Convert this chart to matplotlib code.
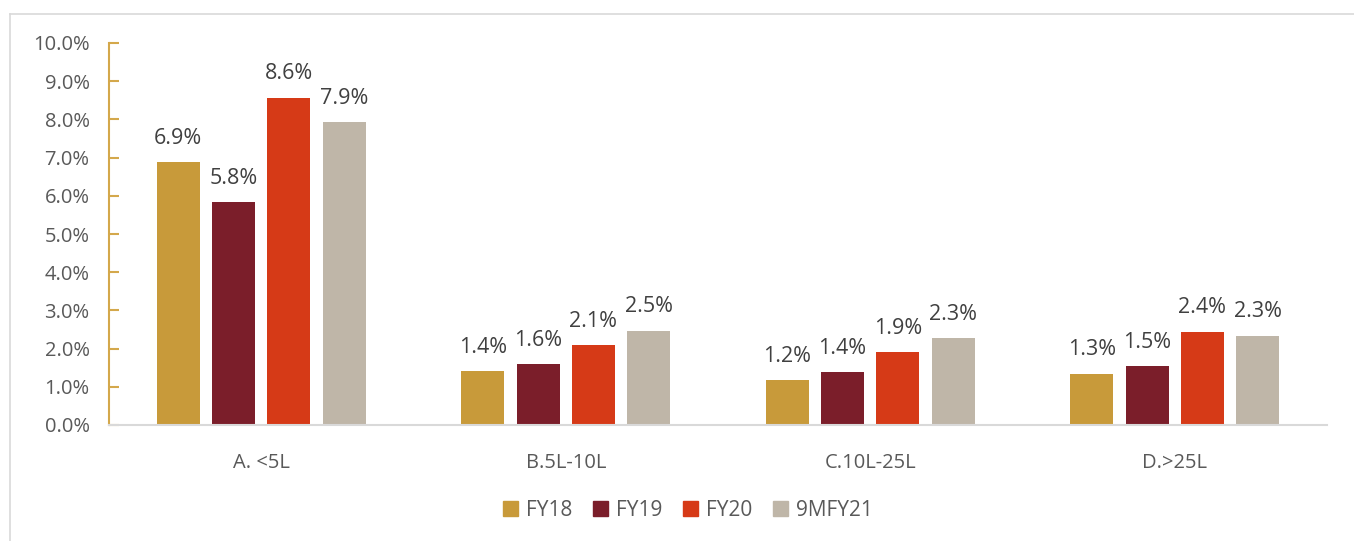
import matplotlib
matplotlib.use("Agg")
import matplotlib.pyplot as plt
import numpy as np
from matplotlib.patches import Rectangle
from matplotlib.lines import Line2D

plt.rcParams['font.family'] = ['Open Sans', 'DejaVu Sans']

categories = ["A. <5L", "B.5L-10L", "C.10L-25L", "D.>25L"]
series = ["FY18", "FY19", "FY20", "9MFY21"]
fy18 = [6.88, 1.41, 1.18, 1.34]
fy19 = [5.83, 1.60, 1.39, 1.54]
fy20 = [8.57, 2.09, 1.91, 2.44]
m9fy21 = [7.93, 2.47, 2.27, 2.34]
values = [fy18, fy19, fy20, m9fy21]
colors = ["#C89A3A", "#7B1E2A", "#D63A17", "#BFB6A8"]
yticks = [0, 1, 2, 3, 4, 5, 6, 7, 8, 9, 10]

fig = plt.figure(figsize=(13.54, 5.41), dpi=100)
ax = fig.add_axes([109/1354, 1-425/541, 1218/1354, 382/541])

x = np.arange(len(categories))
width = 0.141
step = 0.182
for i, (vals, col) in enumerate(zip(values, colors)):
    pos = x + (i - 1.5) * step
    bars = ax.bar(pos, vals, width=width, color=col, zorder=2)
    for b, v in zip(bars, vals):
        ax.text(b.get_x() + b.get_width()/2, v + 0.35, f"{v:.1f}%",
                ha='center', va='bottom', fontsize=15.5, color='#404040')

ax.set_xlim(-0.5, len(categories) - 0.5)
ax.set_ylim(0, 10)
ax.set_yticks(yticks)
ax.set_yticklabels([f"{t:.1f}%" for t in yticks], fontsize=14.5, color='#595959')
ax.set_xticks(x)
ax.set_xticklabels(categories, fontsize=14.5, color='#595959')
ax.tick_params(axis='y', direction='in', length=7, width=1.5, color='#D4A84B', pad=14)
ax.tick_params(axis='x', length=0, pad=20)
for s in ['top', 'right']:
    ax.spines[s].set_visible(False)
ax.spines['left'].set_color('#D4A84B')
ax.spines['left'].set_linewidth(1.5)
ax.spines['bottom'].set_color('#D9D9D9')
ax.spines['bottom'].set_linewidth(1.5)

handles = [Rectangle((0, 0), 1, 1, color=c) for c in colors]
fig.legend(handles, series, loc='center', bbox_to_anchor=(688/1354, 1-510/541),
           ncol=4, frameon=False, fontsize=15, handlelength=0.7, handleheight=0.7,
           columnspacing=1.0, handletextpad=0.4, labelcolor='#595959')

# outer chart border (top and left visible)
fig.add_artist(Line2D([10/1354, 1], [1-14/541, 1-14/541], color='#D9D9D9', lw=1.2, transform=fig.transFigure))
fig.add_artist(Line2D([10/1354, 10/1354], [0, 1-14/541], color='#D9D9D9', lw=1.2, transform=fig.transFigure))

fig.savefig("out.png", dpi=100)
